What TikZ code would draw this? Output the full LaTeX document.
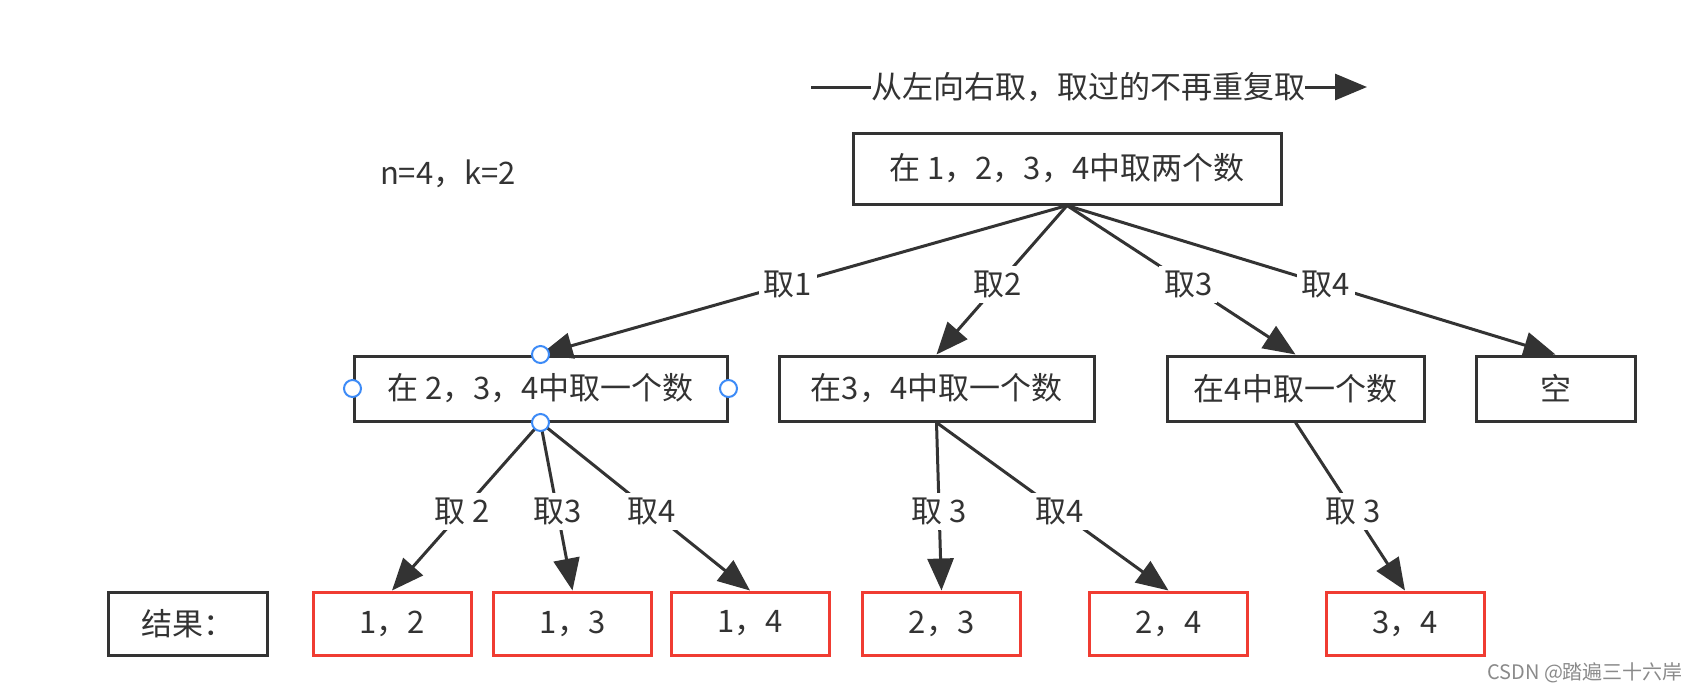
\documentclass[tikz,border=0pt]{standalone}
\usepackage{fontspec}
\setmainfont{Noto Sans CJK SC}
\usetikzlibrary{arrows.meta}
\definecolor{txt}{HTML}{333333}
\definecolor{redb}{HTML}{F03C32}
\definecolor{selb}{HTML}{3D8BF7}
\definecolor{wm}{HTML}{8A8A8A}
\begin{document}
\begin{tikzpicture}[x=0.5pt,y=-0.5pt, font=\fontsize{15.5}{18}\selectfont, text=txt,
  box/.style={draw=txt, line width=1.5pt, minimum height=32.5pt, inner sep=0pt, fill=white},
  res/.style={draw=redb, line width=1.5pt, minimum width=79pt, minimum height=31.5pt, inner sep=0pt},
  conn/.style={draw=txt, line width=1.5pt, -{Triangle[length=16pt,width=13pt]}},
  lbl/.style={fill=white, inner sep=2.5pt, pos=0.53},
  sel/.style={circle, draw=selb, fill=white, line width=1pt, minimum size=8.5pt, inner sep=0pt}]
\useasboundingbox (0,0) rectangle (1702,693);

% hint at top
\node[inner sep=0pt] (hint) at (1088,87) {从左向右取，取过的不再重复取};
\coordinate (hl) at (811,87);
\coordinate (hr) at (1367,87);
\draw[draw=txt, line width=1.5pt] (hl) -- (hint.west);
\draw[conn] (hint.east) -- (hr);

\node (nk) at (448,174) {n=4，k=2};

% level 1
\node[box, minimum width=214pt, minimum height=35.5pt] (root) at (1067,168.5) {在 1，2，3，4中取两个数};

% level 2
\node[box, minimum width=186.5pt] (A) at (540.5,388.5) {在 2，3，4中取一个数};
\node[box, minimum width=157.5pt] (B) at (936.5,388.5) {在3，4中取一个数};
\node[box, minimum width=128.5pt] (C) at (1295.5,388.5) {在4中取一个数};
\node[box, minimum width=79.5pt] (D) at (1555.5,388.5) {空};

% results
\node[box, minimum width=79.5pt, minimum height=31.5pt] (R) at (187.5,623.5) {结果：};
\node[res] (r12) at (392,623.5) {1，2};
\node[res] (r13) at (572.5,623.5) {1，3};
\node[res] (r14) at (750,623.5) {1，4};
\node[res] (r23) at (941.5,623.5) {2，3};
\node[res] (r24) at (1168.5,623.5) {2，4};
\node[res] (r34) at (1405,623.5) {3，4};

% edges
\draw[conn] (root.south) -- node[lbl] {取1} (A.north);
\draw[conn] (root.south) -- node[lbl] {取2} (B.north);
\draw[conn] (root.south) -- node[lbl] {取3} (C.north);
\draw[conn] (root.south) -- node[lbl] {取4} (D.north);

\draw[conn] (A.south) -- node[lbl] {取 2} (r12.north);
\draw[conn] (A.south) -- node[lbl] {取3} (r13.north);
\draw[conn] (A.south) -- node[lbl] {取4} (r14.north);
\draw[conn] (B.south) -- node[lbl] {取 3} (r23.north);
\draw[conn] (B.south) -- node[lbl] {取4} (r24.north);
\draw[conn] (C.south) -- node[lbl] {取 3} (r34.north);

% selection handles
\node[sel] (s1) at (A.north) {};
\node[sel] (s2) at (A.south) {};
\node[sel] (s3) at (A.west) {};
\node[sel] (s4) at (A.east) {};

% watermark
\node[text=wm, font=\fontsize{10}{12}\selectfont, anchor=east] (wmk) at (1690,673) {CSDN @踏遍三十六岸};
\end{tikzpicture}
\end{document}
